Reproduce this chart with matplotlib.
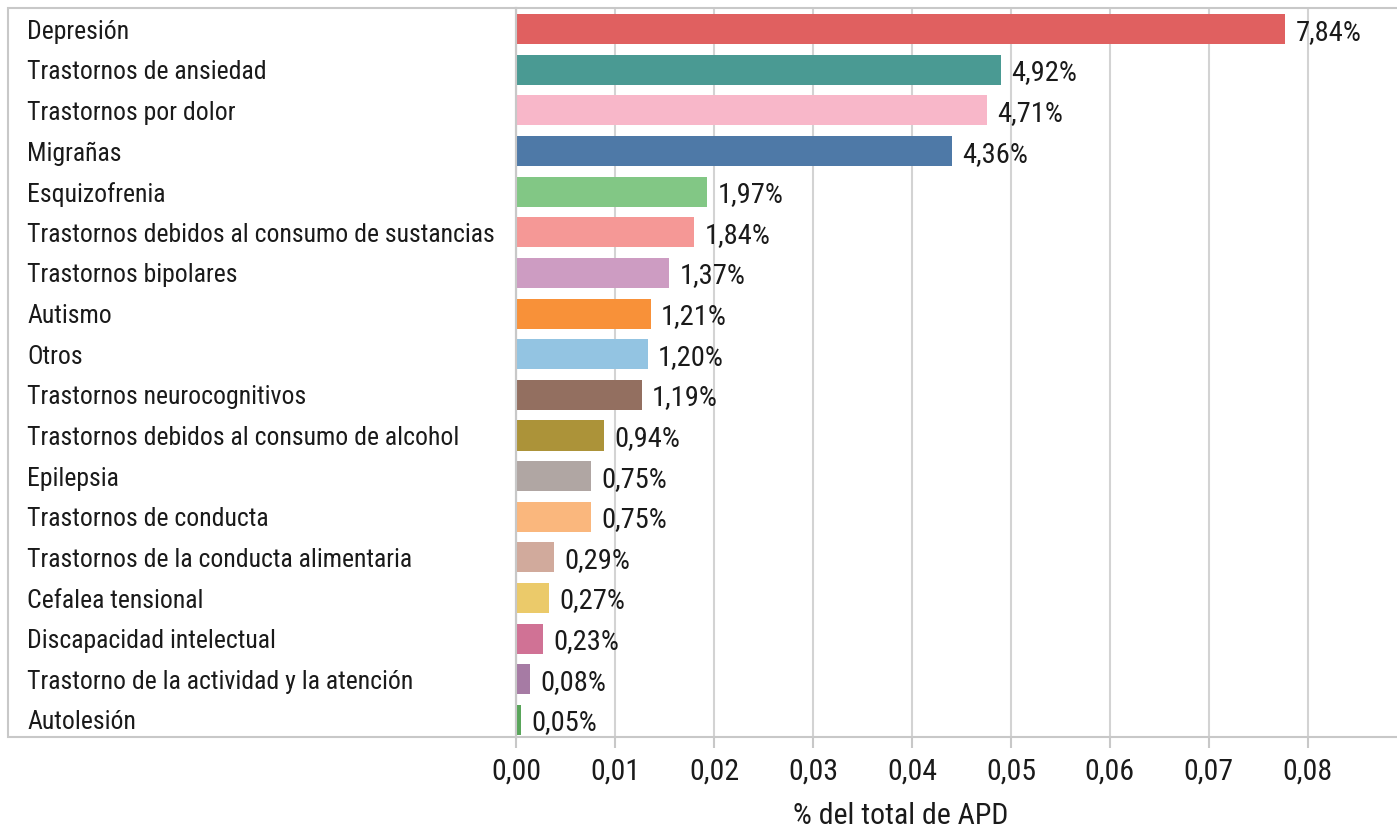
import matplotlib
matplotlib.use("Agg")
import matplotlib.pyplot as plt
import matplotlib.transforms as mtransforms
from matplotlib import font_manager
from matplotlib.patches import Rectangle

# pick a narrow font if one is installed
names = {f.name for f in font_manager.fontManager.ttflist}
family = "DejaVu Sans"
for cand in ["Roboto Condensed", "Liberation Sans Narrow", "DejaVu Sans Condensed", "Open Sans Condensed"]:
    if cand in names:
        family = cand
        break
plt.rcParams["font.family"] = [family, "DejaVu Sans"]

# data, top to bottom
categorias = [
    "Depresión", "Trastornos de ansiedad", "Trastornos por dolor", "Migrañas",
    "Esquizofrenia", "Trastornos debidos al consumo de sustancias", "Trastornos bipolares",
    "Autismo", "Otros", "Trastornos neurocognitivos", "Trastornos debidos al consumo de alcohol",
    "Epilepsia", "Trastornos de conducta", "Trastornos de la conducta alimentaria",
    "Cefalea tensional", "Discapacidad intelectual", "Trastorno de la actividad y la atención",
    "Autolesión",
]
valores = [0.0777, 0.0490, 0.0476, 0.0440, 0.0193, 0.0180, 0.0155, 0.0136, 0.0133,
           0.0127, 0.0089, 0.0076, 0.0076, 0.0038, 0.0033, 0.0027, 0.0014, 0.0005]
etiquetas = ["7,84%", "4,92%", "4,71%", "4,36%", "1,97%", "1,84%", "1,37%", "1,21%", "1,20%",
             "1,19%", "0,94%", "0,75%", "0,75%", "0,29%", "0,27%", "0,23%", "0,08%", "0,05%"]
colores = ["#E06060", "#4A9A93", "#F8B7C9", "#4E79A7", "#82C785", "#F59896", "#CD9CC2",
           "#F89139", "#93C4E2", "#936F60", "#AC9339", "#B0A6A3", "#FAB77D", "#D1AA9C",
           "#EBCA6A", "#D07295", "#A67BA4", "#59A55A"]
ticks = [0.00, 0.01, 0.02, 0.03, 0.04, 0.05, 0.06, 0.07, 0.08]

W, H = 1397, 830
gris = "#C8C8C8"
texto = "#1a1a1a"

fig = plt.figure(figsize=(W / 100, H / 100), dpi=100)
ax = fig.add_axes([516 / W, (H - 737) / H, (W - 516) / W, (737 - 8) / H])

y = list(range(len(categorias)))
ax.barh(y, valores, height=0.74, color=colores, zorder=3)
ax.set_ylim(len(categorias) - 1 + 0.42, -0.52)
ax.set_xlim(0, 0.089)

for yi, v, lab in zip(y, valores, etiquetas):
    ax.annotate(lab, (v, yi), xytext=(7.5, 0), textcoords="offset points",
                va="center_baseline", ha="left", fontsize=20.5, color=texto, zorder=4)

# category names in the left box
trans = mtransforms.blended_transform_factory(fig.transFigure, ax.transData)
for yi, c in zip(y, categorias):
    fig.text(27 / W, yi, c, transform=trans, va="center_baseline", ha="left",
             fontsize=18.5, color=texto)

fig.add_artist(Rectangle((8 / W, (H - 737) / H), (516 - 8) / W, (737 - 8) / H,
                         transform=fig.transFigure, fill=False, edgecolor=gris, linewidth=1.5))

ax.set_xticks(ticks)
ax.set_xticklabels([f"{t:.2f}".replace(".", ",") for t in ticks], fontsize=21.5)
ax.set_yticks([])
ax.tick_params(axis="x", length=8, width=1.5, color=gris, pad=7, labelcolor=texto)
ax.grid(axis="x", color="#D3D3D3", linewidth=1.5, zorder=0)
for s in ["top", "bottom", "left"]:
    ax.spines[s].set_color(gris)
    ax.spines[s].set_linewidth(1.5)
ax.spines["right"].set_visible(False)

fig.text(901 / W, 1 - 824 / H, "% del total de APD", ha="center", va="baseline",
         fontsize=21.5, color=texto)

fig.savefig("out.png", dpi=100)
